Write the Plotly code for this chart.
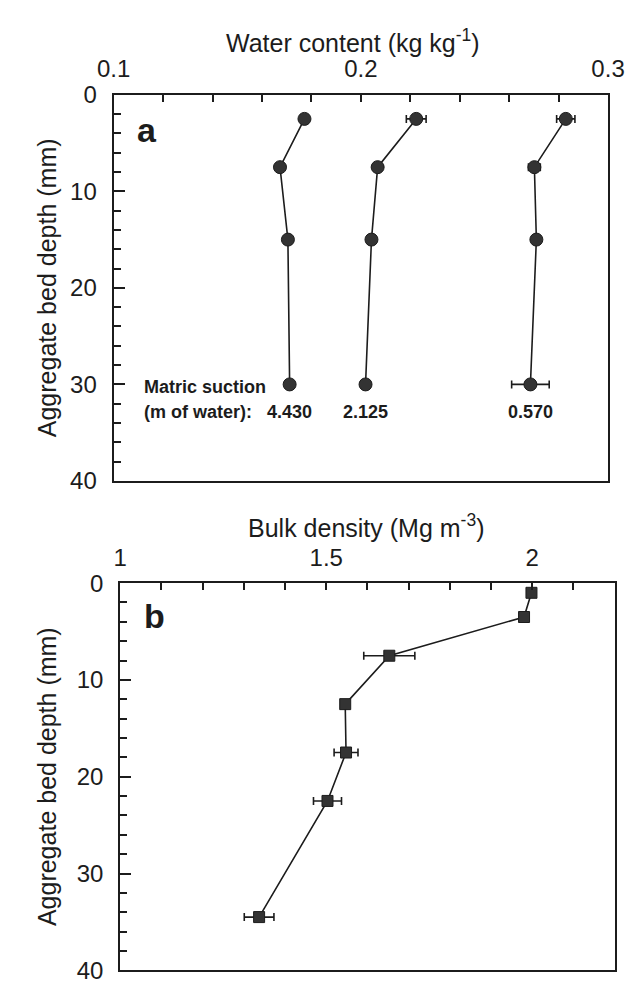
import plotly.graph_objects as go

# ---------------- data ----------------
# Panel a: water content profiles at three matric suctions
depth_a = [2.5, 7.5, 15, 30]
wc_4430 = [0.1772, 0.1673, 0.1705, 0.1712]
wc_2125 = [0.2224, 0.2068, 0.2043, 0.2019]
wc_0570 = [0.2829, 0.2702, 0.2710, 0.2686]
err_4430 = [0, 0, 0, 0]
err_2125 = [0.0040, 0, 0, 0]
err_0570 = [0.0037, 0.0024, 0, 0.0076]
suction_labels = ["4.430", "2.125", "0.570"]

# Panel b: bulk density profile
depth_b = [1, 3.5, 7.5, 12.5, 17.5, 22.5, 34.5]
bulk_density = [1.998, 1.980, 1.653, 1.546, 1.548, 1.503, 1.337]
err_bd = [0, 0, 0.062, 0, 0.029, 0.034, 0.036]

ticks_wc = [0.1, 0.2, 0.3]
ticks_bd = [1, 1.5, 2]
ticks_depth = [0, 10, 20, 30, 40]

# ---------------- style ----------------
FONT = "Liberation Sans, Arial, Helvetica, sans-serif"
INK = "#1c1c1c"
W, H = 644, 995

fig = go.Figure()

series_a = [(wc_4430, err_4430), (wc_2125, err_2125), (wc_0570, err_0570)]
for vals, errs in series_a:
    fig.add_trace(go.Scatter(
        x=vals, y=depth_a, mode="lines+markers",
        line=dict(color=INK, width=1.6),
        marker=dict(symbol="circle", size=13, color="#333333",
                    line=dict(color=INK, width=1)),
        error_x=dict(type="data", array=errs, visible=True,
                     color=INK, thickness=1.6, width=4),
        xaxis="x", yaxis="y", showlegend=False, hoverinfo="x+y"))

fig.add_trace(go.Scatter(
    x=bulk_density, y=depth_b, mode="lines+markers",
    line=dict(color=INK, width=1.6),
    marker=dict(symbol="square", size=11, color="#333333",
                line=dict(color=INK, width=1)),
    error_x=dict(type="data", array=err_bd, visible=True,
                 color=INK, thickness=1.6, width=4),
    xaxis="x2", yaxis="y2", showlegend=False, hoverinfo="x+y"))


def px_dom(a, b, total):
    return [a / total, b / total]


def py_dom(top, bottom):
    return [1 - bottom / H, 1 - top / H]


axis_common = dict(showline=True, mirror=True, linecolor=INK, linewidth=2,
                   showgrid=False, zeroline=False, ticks="inside",
                   tickcolor=INK, tickwidth=2,
                   tickfont=dict(family=FONT, size=24, color=INK))

fig.update_layout(
    width=W, height=H,
    margin=dict(l=0, r=0, t=0, b=0),
    paper_bgcolor="white", plot_bgcolor="white",
    xaxis=dict(domain=px_dom(102, 624, W), range=[0.1, 0.3], side="top",
               anchor="y", tickvals=ticks_wc, ticktext=["0.1", "0.2", "0.3"],
               ticklen=7, ticklabelstandoff=6,
               minor=dict(tick0=0.1, dtick=0.02, ticks="inside", ticklen=7,
                          tickcolor=INK, tickwidth=2),
               **axis_common),
    yaxis=dict(domain=py_dom(83, 480), range=[40, 0], anchor="x",
               tickvals=ticks_depth, ticklen=11, ticklabelstandoff=10,
               minor=dict(tick0=0, dtick=2, ticks="inside", ticklen=7,
                          tickcolor=INK, tickwidth=2),
               **axis_common),
    xaxis2=dict(domain=px_dom(109, 631, W), range=[1, 2.2], side="top",
                anchor="y2", tickvals=ticks_bd, ticktext=["1", "1.5", "2"],
                ticklen=7, ticklabelstandoff=6,
                minor=dict(tick0=1, dtick=0.1, ticks="inside", ticklen=7,
                           tickcolor=INK, tickwidth=2),
                **axis_common),
    yaxis2=dict(domain=py_dom(585, 983), range=[40, 0], anchor="x2",
                tickvals=ticks_depth, ticklen=11, ticklabelstandoff=10,
                minor=dict(tick0=0, dtick=2, ticks="inside", ticklen=7,
                           tickcolor=INK, tickwidth=2),
                **axis_common),
)

ann = []
# axis titles
ann.append(dict(text="Water content (kg kg<sup>-1</sup>)", xref="paper", yref="paper",
                x=355 / W, y=1 - 28 / H, xanchor="center", yanchor="middle",
                showarrow=False, font=dict(family=FONT, size=25, color=INK)))
ann.append(dict(text="Bulk density (Mg m<sup>-3</sup>)", xref="paper", yref="paper",
                x=368 / W, y=1 - 526 / H, xanchor="center", yanchor="middle",
                showarrow=False, font=dict(family=FONT, size=25, color=INK)))
for top, bottom in [(83, 480), (585, 983)]:
    ann.append(dict(text="Aggregate bed depth (mm)", xref="paper", yref="paper",
                    x=31 / W, y=1 - (top + bottom) / 2 / H, textangle=-90,
                    xanchor="center", yanchor="middle",
                    showarrow=False, font=dict(family=FONT, size=25, color=INK)))
# panel letters
ann.append(dict(text="<b>a</b>", xref="x domain", yref="y domain", x=0.068, y=0.91,
                xanchor="center", yanchor="middle",
                showarrow=False, font=dict(family=FONT, size=34, color=INK)))
ann.append(dict(text="<b>b</b>", xref="x2 domain", yref="y2 domain", x=0.07, y=0.915,
                xanchor="center", yanchor="middle",
                showarrow=False, font=dict(family=FONT, size=34, color=INK)))
# matric suction annotations
ann.append(dict(text="<b>Matric suction</b>", xref="x", yref="y", x=0.1114, y=30.3,
                xanchor="left", yanchor="middle", showarrow=False,
                font=dict(family=FONT, size=18, color=INK)))
ann.append(dict(text="<b>(m of water):</b>", xref="x", yref="y", x=0.1114, y=32.9,
                xanchor="left", yanchor="middle", showarrow=False,
                font=dict(family=FONT, size=18, color=INK)))
for (vals, _), lab in zip(series_a, suction_labels):
    ann.append(dict(text="<b>" + lab + "</b>", xref="x", yref="y", x=vals[-1], y=32.9,
                    xanchor="center", yanchor="middle", showarrow=False,
                    font=dict(family=FONT, size=18, color=INK)))

fig.update_layout(annotations=ann)

fig.write_html("out.html")
